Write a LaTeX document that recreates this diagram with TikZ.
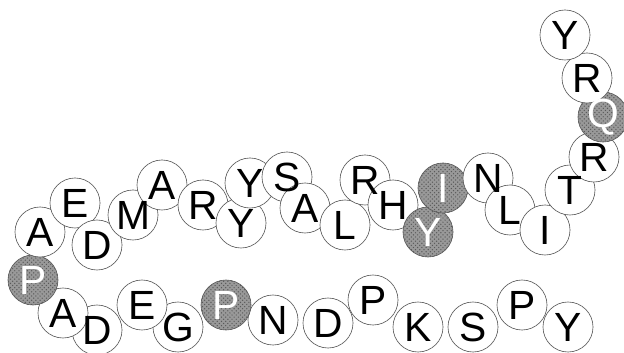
\documentclass[tikz,border=0pt]{standalone}
\usepackage{fontspec}
\setmainfont{Liberation Sans}
\usetikzlibrary{patterns}
% residues: x/y/letter/kind, lower strand right to left, then upper strand
\def\chain{568/327/Y/res, 522/305/P/res, 473/327/S/res, 418/327/K/res,
  373/300/P/res, 328/323/D/res, 273/320/N/res, 226/305/P/mod,
  178/327/G/res, 142/305/E/res, 97/330/D/res, 63/313/A/res, 33/280/P/mod,
  40/232/A/res, 75/203/E/res, 97/245/D/res, 133/215/M/res, 162/185/A/res,
  203/205/R/res, 241/223/Y/res, 250/183/Y/res, 287/177/S/res, 305/208/A/res,
  345/225/L/res, 365/180/R/res, 393/205/H/res, 428/232/Y/mod, 443/188/I/mod,
  488/178/N/res, 510/210/L/res, 545/230/I/res, 570/190/T/res, 594/157/R/res,
  603/117/Q/mod, 587/78/R/res, 565/35/Y/res}
\begin{document}
\begin{tikzpicture}[x=0.025cm,y=-0.025cm,
  res/.style={circle,draw=black!65,line width=0.45pt,fill=white,minimum size=1.25cm,inner sep=0pt},
  mod/.style={res,preaction={fill=black!40},pattern=crosshatch dots,pattern color=black!65},
  restext/.style={font=\fontsize{29}{29}\selectfont,inner sep=0pt},
  modtext/.style={restext,text=white}]
\useasboundingbox (0,0) rectangle (624,353);
\foreach \x/\y/\aa/\k [count=\i] in \chain
  \node[\k] (r\i) at (\x,\y) {};
\foreach \x/\y/\aa/\k [count=\i] in \chain
  \node[\k text] (t\i) at (r\i) {\aa};
\end{tikzpicture}
\end{document}
